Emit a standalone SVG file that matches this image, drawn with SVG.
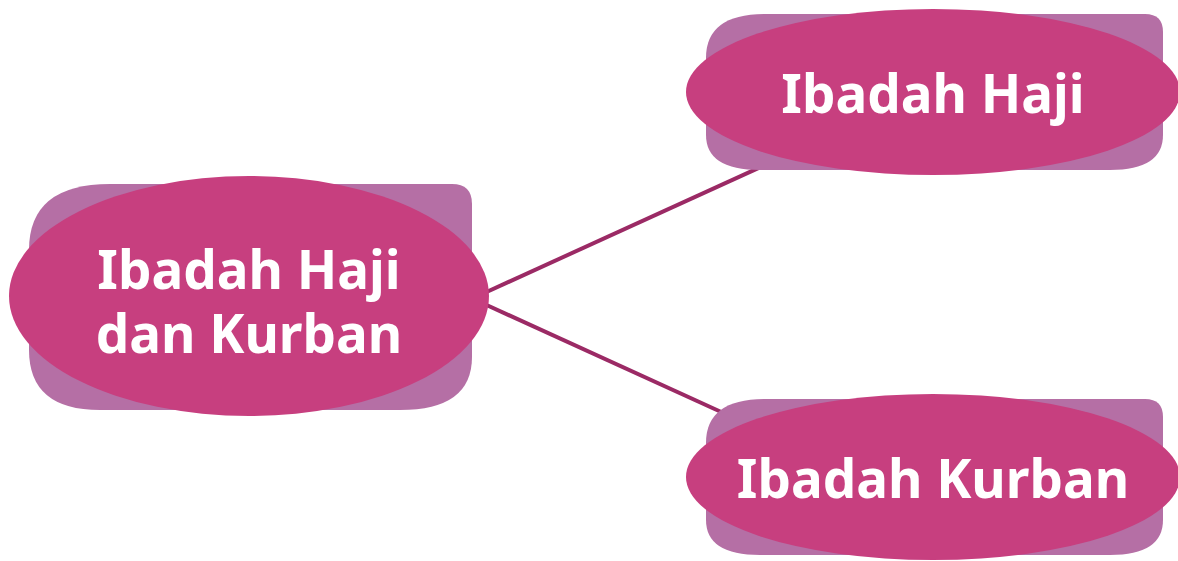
<svg xmlns="http://www.w3.org/2000/svg" width="1178" height="561" viewBox="0 0 1178 561">
<style>
.back{fill:#B56FA5}
.front{fill:#C73F7F}
.lbl{font-family:"Noto Sans","Open Sans",sans-serif;font-weight:700;font-size:53px;fill:#FFFFFF;text-anchor:middle}
.conn{stroke:#9B2A65;stroke-width:4;fill:none}
</style>
<rect width="1178" height="561" fill="#FFFFFF"/>
<g id="connectors">
<line class="conn" x1="480" y1="295" x2="765" y2="165"/>
<line class="conn" x1="480" y1="302" x2="730" y2="416"/>
</g>
<g id="node-root">
<path class="back" d="M110,184 L452,184 Q472,184 472,204 L472,357 Q472,410 400,410 L100,410 Q29,410 29,350 L29,250 Q29,184 110,184 Z"/>
<ellipse class="front" cx="249" cy="296" rx="240" ry="120"/>
<text class="lbl" x="249" y="289">Ibadah Haji</text>
<text class="lbl" x="249" y="353">dan Kurban</text>
</g>
<g id="node-haji">
<path class="back" d="M765,14 L1145,14 Q1163,14 1163,32 L1163,135 Q1163,170 1110,170 L760,170 Q706,170 706,135 L706,58 Q706,14 765,14 Z"/>
<ellipse class="front" cx="933" cy="92" rx="247" ry="83"/>
<text class="lbl" x="933" y="113">Ibadah Haji</text>
</g>
<g id="node-kurban">
<path class="back" d="M765,399 L1145,399 Q1163,399 1163,417 L1163,520 Q1163,555 1110,555 L760,555 Q706,555 706,520 L706,443 Q706,399 765,399 Z"/>
<ellipse class="front" cx="933" cy="477" rx="247" ry="83"/>
<text class="lbl" x="933" y="498">Ibadah Kurban</text>
</g>
</svg>
